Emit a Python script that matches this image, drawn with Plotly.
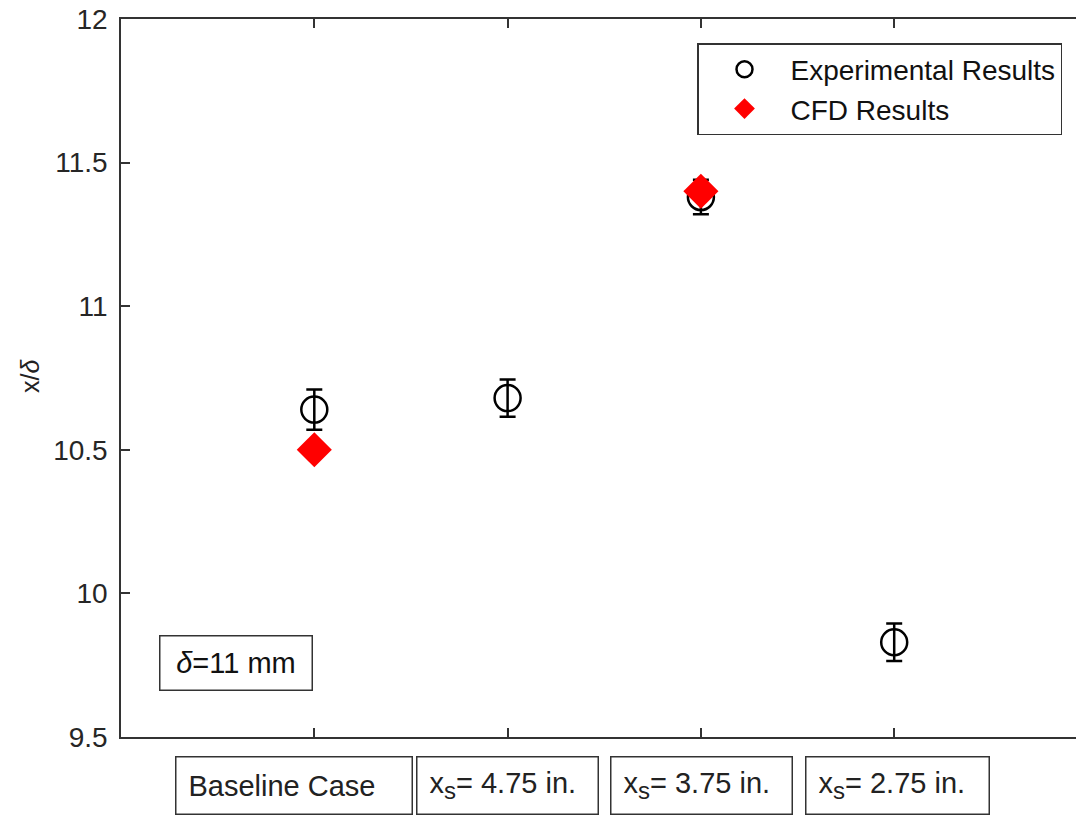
import plotly.graph_objects as go

# Case positions along the x axis and their text-box labels
SUB = '<sub><span style="font-size:24px">s</span></sub>'
cases = [1, 2, 3, 4]
case_labels = ["Baseline Case", "x" + SUB + "= 4.75 in.",
               "x" + SUB + "= 3.75 in.", "x" + SUB + "= 2.75 in."]

# Experimental reattachment location x/delta with uncertainty
exp_y = [10.64, 10.68, 11.38, 9.83]
exp_err = [0.07, 0.065, 0.06, 0.065]

# CFD predictions (only for the baseline and the 3.75 in. case)
cfd_x = [1, 3]
cfd_y = [10.50, 11.40]

# y-axis ticks
y_ticks = [9.5, 10, 10.5, 11, 11.5, 12]
y_tick_text = ["9.5", "10", "10.5", "11", "11.5", "12"]

FONT = "Liberation Sans, Arial, sans-serif"
AX = "#333333"

fig = go.Figure()
fig.add_trace(go.Scatter(
    x=cases, y=exp_y, mode="markers", name="Experimental Results",
    marker=dict(symbol="circle-open", size=26, color="black",
                line=dict(width=2.5, color="black")),
    error_y=dict(type="data", array=exp_err, visible=True,
                 color="black", thickness=2.5, width=8),
))
fig.add_trace(go.Scatter(
    x=cfd_x, y=cfd_y, mode="markers", name="CFD Results",
    marker=dict(symbol="diamond", size=27, color="#ff0000",
                line=dict(width=0)),
))

# Case labels in boxed, left-aligned text below the axis
box_w = [235, 180, 180, 182]
box_shift = [-20, 0, 1, 3]
PAD = 12
for c, lab, w, s in zip(cases, case_labels, box_w, box_shift):
    fig.add_annotation(
        x=c, xref="x", y=-0.068, yref="paper", text=lab, showarrow=False,
        xanchor="center", yanchor="middle", xshift=s, align="left",
        width=w - 2 * PAD, height=56 - 2 * PAD, borderpad=PAD,
        bordercolor=AX, borderwidth=1.5, bgcolor="white",
        font=dict(family=FONT, size=29, color="#222222"),
    )

# Boundary-layer thickness note
fig.add_annotation(
    x=(235.5 - 121) / 955, xref="paper", y=(737 - 662.5) / 718, yref="paper",
    text="<i>δ</i>=11 mm", showarrow=False, xanchor="center", yanchor="middle",
    width=151, height=53, borderpad=0, bordercolor=AX, borderwidth=1.5,
    bgcolor="white", font=dict(family=FONT, size=29, color="#111111"),
)

# y-axis title
fig.add_annotation(
    x=(30 - 121) / 955, xref="paper", y=(737 - 376) / 718, yref="paper",
    text="x/<i>δ</i>", showarrow=False, textangle=-90,
    xanchor="center", yanchor="middle",
    font=dict(family=FONT, size=25, color="#222222"),
)

fig.update_layout(
    width=1076, height=818,
    margin=dict(l=121, r=0, t=19, b=81),
    paper_bgcolor="white", plot_bgcolor="white",
    showlegend=True,
    legend=dict(
        x=(1062 - 121) / 955, xanchor="right",
        y=1 - (43 - 19) / 718, yanchor="top",
        bordercolor=AX, borderwidth=1.5, bgcolor="white",
        font=dict(family=FONT, size=28, color="#111111"),
        itemwidth=82, tracegroupgap=0,
    ),
    font=dict(family=FONT),
)

fig.update_xaxes(
    range=[0, 955 / 193.3], tickvals=cases, showticklabels=False,
    ticks="inside", ticklen=9, tickwidth=1.5, tickcolor=AX,
    showline=True, linecolor=AX, linewidth=1.5, mirror="ticks",
    showgrid=False, zeroline=False,
)
fig.update_yaxes(
    range=[9.5, 12], tickvals=y_ticks, ticktext=y_tick_text,
    ticks="inside", ticklen=9, tickwidth=1.5, tickcolor=AX,
    showline=True, linecolor=AX, linewidth=1.5, mirror=False,
    showgrid=False, zeroline=False, ticklabelstandoff=6,
    tickfont=dict(family=FONT, size=28, color="#262626"),
)

fig.write_html("out.html")
